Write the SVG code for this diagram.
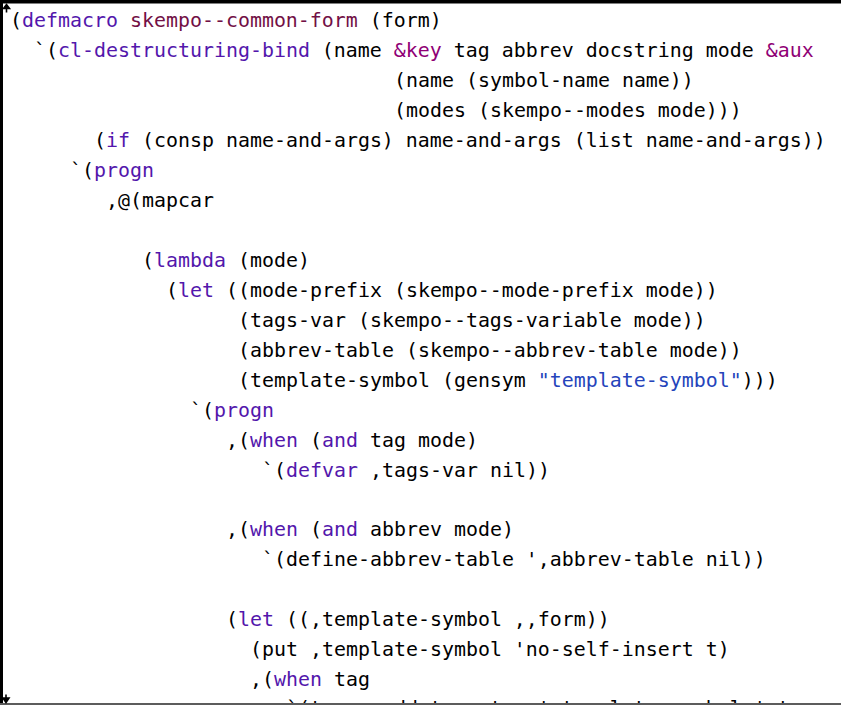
<svg xmlns="http://www.w3.org/2000/svg" width="841" height="705" viewBox="0 0 841 705">
<style>
text{font-family:"DejaVu Sans Mono","Liberation Mono",monospace;font-size:19.93px;fill:#000;white-space:pre}
.k{fill:#5317ac}
.f{fill:#721045}
.b{fill:#8f0075}
.s{fill:#2544bb}
</style>
<rect x="0" y="0" width="841" height="705" fill="#ffffff"/>
<g id="frame">
<rect x="0" y="0" width="841" height="3.5" fill="#000"/>
<rect x="0" y="0" width="3" height="705" fill="#000"/>
<path d="M6.5 5 L6.5 12.5 M3.5 8.5 L6.5 4.5 L9.5 8.5 Z" stroke="#000" stroke-width="1.6" fill="#000"/>
</g>
<g id="code">
<text x="10" y="27.3">(<tspan class="k">defmacro</tspan> <tspan class="f">skempo--common-form</tspan> (form)</text>
<text x="34" y="57.25">`(<tspan class="k">cl-destructuring-bind</tspan> (name <tspan class="b">&amp;key</tspan> tag abbrev docstring mode <tspan class="b">&amp;aux</tspan></text>
<text x="394" y="87.2">(name (symbol-name name))</text>
<text x="394" y="117.15">(modes (skempo--modes mode)))</text>
<text x="94" y="147.1">(<tspan class="k">if</tspan> (consp name-and-args) name-and-args (list name-and-args))</text>
<text x="70" y="177.05">`(<tspan class="k">progn</tspan></text>
<text x="106" y="207">,@(mapcar</text>
<text x="142" y="266.9">(<tspan class="k">lambda</tspan> (mode)</text>
<text x="166" y="296.85">(<tspan class="k">let</tspan> ((mode-prefix (skempo--mode-prefix mode))</text>
<text x="238" y="326.8">(tags-var (skempo--tags-variable mode))</text>
<text x="238" y="356.75">(abbrev-table (skempo--abbrev-table mode))</text>
<text x="238" y="386.7">(template-symbol (gensym <tspan class="s">"template-symbol"</tspan>)))</text>
<text x="190" y="416.65">`(<tspan class="k">progn</tspan></text>
<text x="226" y="446.6">,(<tspan class="k">when</tspan> (<tspan class="k">and</tspan> tag mode)</text>
<text x="262" y="476.55">`(<tspan class="k">defvar</tspan> ,tags-var nil))</text>
<text x="226" y="536.45">,(<tspan class="k">when</tspan> (<tspan class="k">and</tspan> abbrev mode)</text>
<text x="262" y="566.4">`(define-abbrev-table ',abbrev-table nil))</text>
<text x="226" y="626.3">(<tspan class="k">let</tspan> ((,template-symbol ,,form))</text>
<text x="250" y="656.25">(put ,template-symbol 'no-self-insert t)</text>
<text x="250" y="686.2">,(<tspan class="k">when</tspan> tag</text>
<text x="286" y="715">`(tempo-add-tag ,tag ',template-symbol ',tags-var))</text>
</g>
<g id="bottom">
<rect x="0" y="703" width="841" height="2" fill="#5c5c5c"/>
<path d="M6 694.5 L6 701 M3 698 L6 702.5 L9 698 Z" stroke="#000" stroke-width="1.6" fill="#000"/>
</g>
</svg>
